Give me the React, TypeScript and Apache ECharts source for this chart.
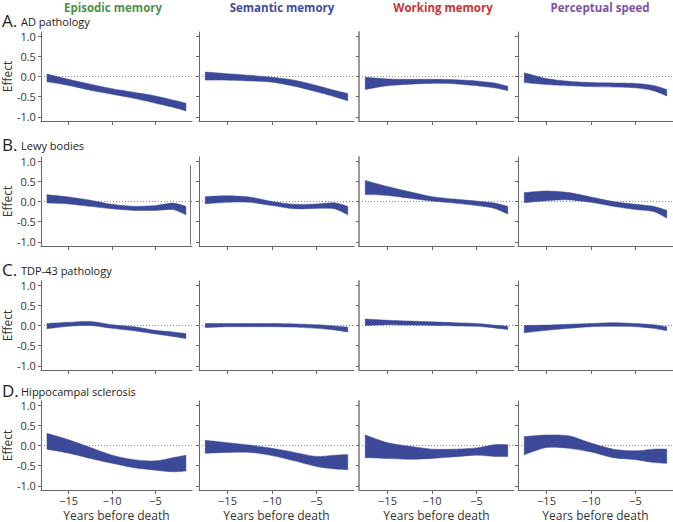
import React, { useEffect, useRef } from "react";
import * as echarts from "echarts";

const years = [-17.5, -15, -12.5, -10, -7.5, -5, -3, -1.5];
const xTicks = [-15, -10, -5];
const yTicks = [-1, -0.5, 0, 0.5, 1];
const xMin = -18.2;
const xMax = -0.8;

const domains = ["Episodic memory", "Semantic memory", "Working memory", "Perceptual speed"];
const domainColors = ["#4f9147", "#3e4c9c", "#cc3333", "#7a55a3"];
const rowLetters = ["A.", "B.", "C.", "D."];
const rowNames = ["AD pathology", "Lewy bodies", "TDP-43 pathology", "Hippocampal sclerosis"];

// Row A: AD pathology
const adEpisodicUpper = [0.06, -0.07, -0.19, -0.30, -0.39, -0.48, -0.58, -0.66];
const adEpisodicLower = [-0.13, -0.22, -0.34, -0.44, -0.54, -0.66, -0.76, -0.85];
const adSemanticUpper = [0.11, 0.07, 0.03, -0.02, -0.09, -0.22, -0.34, -0.42];
const adSemanticLower = [-0.09, -0.09, -0.11, -0.14, -0.24, -0.38, -0.50, -0.60];
const adWorkingUpper = [-0.02, -0.06, -0.07, -0.07, -0.08, -0.11, -0.16, -0.24];
const adWorkingLower = [-0.32, -0.23, -0.19, -0.17, -0.18, -0.23, -0.28, -0.35];
const adSpeedUpper = [0.09, -0.05, -0.12, -0.15, -0.16, -0.17, -0.22, -0.32];
const adSpeedLower = [-0.15, -0.20, -0.23, -0.25, -0.26, -0.28, -0.35, -0.48];

// Row B: Lewy bodies
const lbEpisodicUpper = [0.17, 0.11, 0.03, -0.07, -0.12, -0.10, -0.04, -0.12];
const lbEpisodicLower = [-0.04, -0.06, -0.12, -0.18, -0.22, -0.22, -0.20, -0.33];
const lbSemanticUpper = [0.12, 0.14, 0.11, 0.00, -0.07, -0.06, -0.03, -0.12];
const lbSemanticLower = [-0.06, -0.02, -0.02, -0.10, -0.18, -0.17, -0.18, -0.33];
const lbWorkingUpper = [0.52, 0.37, 0.24, 0.12, 0.06, 0.01, -0.04, -0.12];
const lbWorkingLower = [0.17, 0.15, 0.08, 0.01, -0.04, -0.10, -0.17, -0.31];
const lbSpeedUpper = [0.22, 0.26, 0.22, 0.11, 0.00, -0.07, -0.12, -0.22];
const lbSpeedLower = [-0.03, 0.02, 0.04, -0.02, -0.12, -0.20, -0.25, -0.41];

// Row C: TDP-43 pathology
const tdpEpisodicUpper = [0.05, 0.08, 0.10, 0.02, -0.03, -0.12, -0.16, -0.20];
const tdpEpisodicLower = [-0.08, -0.02, 0.00, -0.07, -0.13, -0.21, -0.27, -0.32];
const tdpSemanticUpper = [0.05, 0.05, 0.05, 0.05, 0.04, 0.02, -0.01, -0.04];
const tdpSemanticLower = [-0.05, -0.03, -0.03, -0.03, -0.04, -0.07, -0.11, -0.16];
const tdpWorkingUpper = [0.16, 0.13, 0.11, 0.09, 0.07, 0.05, 0.01, -0.02];
const tdpWorkingLower = [0.00, 0.02, 0.01, 0.00, -0.01, -0.02, -0.06, -0.10];
const tdpSpeedUpper = [0.00, 0.01, 0.03, 0.05, 0.07, 0.05, 0.02, -0.03];
const tdpSpeedLower = [-0.18, -0.12, -0.07, -0.03, -0.02, -0.03, -0.07, -0.13];

// Row D: Hippocampal sclerosis
const hsEpisodicUpper = [0.30, 0.14, -0.05, -0.24, -0.35, -0.38, -0.30, -0.24];
const hsEpisodicLower = [-0.09, -0.19, -0.32, -0.44, -0.55, -0.61, -0.65, -0.63];
const hsSemanticUpper = [0.13, 0.07, 0.01, -0.07, -0.17, -0.27, -0.24, -0.22];
const hsSemanticLower = [-0.19, -0.17, -0.17, -0.25, -0.38, -0.52, -0.58, -0.60];
const hsWorkingUpper = [0.26, 0.07, -0.02, -0.09, -0.09, -0.06, 0.02, 0.02];
const hsWorkingLower = [-0.30, -0.32, -0.34, -0.32, -0.28, -0.24, -0.27, -0.27];
const hsSpeedUpper = [0.22, 0.26, 0.24, 0.06, -0.09, -0.13, -0.09, -0.09];
const hsSpeedLower = [-0.23, -0.05, -0.07, -0.16, -0.30, -0.35, -0.42, -0.44];

const panels = [
  [[adEpisodicLower, adEpisodicUpper], [adSemanticLower, adSemanticUpper], [adWorkingLower, adWorkingUpper], [adSpeedLower, adSpeedUpper]],
  [[lbEpisodicLower, lbEpisodicUpper], [lbSemanticLower, lbSemanticUpper], [lbWorkingLower, lbWorkingUpper], [lbSpeedLower, lbSpeedUpper]],
  [[tdpEpisodicLower, tdpEpisodicUpper], [tdpSemanticLower, tdpSemanticUpper], [tdpWorkingLower, tdpWorkingUpper], [tdpSpeedLower, tdpSpeedUpper]],
  [[hsEpisodicLower, hsEpisodicUpper], [hsSemanticLower, hsSemanticUpper], [hsWorkingLower, hsWorkingUpper], [hsSpeedLower, hsSpeedUpper]],
];

const BAND = "#3c4898";
const AXIS = "#666";
const FONT = "'Open Sans', 'Noto Sans', sans-serif";

const gridLefts = [37, 199, 359, 518];
const gridTops = [32, 157, 281, 401];
const gridW = 155;
const gridH = 89;
const titleCenters = [113, 282, 443, 600];
const rowLabelY = [20, 144, 269, 390];

// Catmull-Rom style bezier through pixel points (drawing only)
function curveThrough(pts: number[][], first: boolean): string {
  let d = first ? `M${pts[0][0]},${pts[0][1]}` : `L${pts[0][0]},${pts[0][1]}`;
  const t = 0.8;
  for (let i = 0; i < pts.length - 1; i++) {
    const p0 = pts[Math.max(0, i - 1)];
    const p1 = pts[i];
    const p2 = pts[i + 1];
    const p3 = pts[Math.min(pts.length - 1, i + 2)];
    const c1x = p1[0] + ((p2[0] - p0[0]) / 6) * t;
    const c1y = p1[1] + ((p2[1] - p0[1]) / 6) * t;
    const c2x = p2[0] - ((p3[0] - p1[0]) / 6) * t;
    const c2y = p2[1] - ((p3[1] - p1[1]) / 6) * t;
    d += ` C${c1x},${c1y} ${c2x},${c2y} ${p2[0]},${p2[1]}`;
  }
  return d;
}

export default function App() {
  const ref = useRef<HTMLDivElement>(null);
  useEffect(() => {
    if (!ref.current) return;
    const chart = echarts.init(ref.current, null, { renderer: "svg" });
    const grid: any[] = [];
    const xAxis: any[] = [];
    const yAxis: any[] = [];
    const series: any[] = [];
    for (let r = 0; r < 4; r++) {
      for (let c = 0; c < 4; c++) {
        const i = r * 4 + c;
        grid.push({ left: gridLefts[c], top: gridTops[r], width: gridW, height: gridH });
        const lastRow = r === 3;
        xAxis.push({
          type: "value",
          gridIndex: i,
          min: xMin,
          max: xMax,
          axisLine: { onZero: false, lineStyle: { color: AXIS, width: 1 } },
          axisTick: { show: true, length: 4, customValues: xTicks, lineStyle: { color: AXIS } },
          axisLabel: {
            show: lastRow,
            customValues: xTicks,
            margin: 5,
            fontFamily: FONT,
            fontSize: 11,
            color: "#333",
            formatter: (v: number) => (v < 0 ? "\u2212" + Math.abs(v) : String(v)),
          },
          splitLine: { show: false },
          name: lastRow ? "Years before death" : "",
          nameLocation: "middle",
          nameGap: 19,
          nameTextStyle: { fontFamily: FONT, fontSize: 12, color: "#333" },
        });
        yAxis.push({
          type: "value",
          gridIndex: i,
          min: -1.1,
          max: 1.1,
          axisLine: {
            show: true,
            onZero: false,
            lineStyle: { color: c === 2 ? "#999" : AXIS, width: c === 2 ? 2 : 1 },
          },
          axisTick: { show: true, length: 3, customValues: yTicks, lineStyle: { color: AXIS } },
          axisLabel: {
            show: c === 0,
            customValues: yTicks,
            margin: 5,
            fontFamily: FONT,
            fontSize: 11,
            color: "#333",
            formatter: (v: number) => v.toFixed(1),
          },
          splitLine: { show: false },
          name: c === 0 ? "Effect" : "",
          nameLocation: "middle",
          nameGap: 25,
          nameRotate: 90,
          nameTextStyle: { fontFamily: FONT, fontSize: 12, color: "#333" },
        });
        const [lower, upper] = panels[r][c];
        series.push({
          type: "line",
          xAxisIndex: i,
          yAxisIndex: i,
          symbol: "none",
          silent: true,
          lineStyle: { type: [1, 2], color: "#888", width: 1 },
          data: [
            [xMin, 0],
            [xMax, 0],
          ],
          z: 1,
        });
        series.push({
          type: "custom",
          xAxisIndex: i,
          yAxisIndex: i,
          silent: true,
          encode: { x: 0, y: [1, 2] },
          data: years.map((x, k) => [x, lower[k], upper[k]]),
          renderItem: (params: any, api: any) => {
            if (params.dataIndexInside !== 0) return null;
            const n = params.dataInsideLength;
            const up: number[][] = [];
            const lo: number[][] = [];
            for (let k = 0; k < n; k++) {
              up.push(api.coord([api.value(0, k), api.value(2, k)]));
              lo.push(api.coord([api.value(0, k), api.value(1, k)]));
            }
            lo.reverse();
            const d = curveThrough(up, true) + " " + curveThrough(lo, false) + " Z";
            return {
              type: "path",
              shape: { pathData: d },
              style: { fill: BAND, stroke: BAND, lineWidth: 0.5 },
            };
          },
          z: 2,
        });
      }
    }
    const graphic: any[] = [];
    domains.forEach((d, c) => {
      graphic.push({
        type: "text",
        x: titleCenters[c],
        y: 1,
        style: {
          text: d,
          fill: domainColors[c],
          font: `bold 11.5px ${FONT}`,
          textAlign: "center",
          textVerticalAlign: "top",
        },
      });
    });
    rowLetters.forEach((l, r) => {
      graphic.push({
        type: "text",
        x: 2,
        y: rowLabelY[r],
        style: { text: l, fill: "#222", font: `17px ${FONT}`, textAlign: "left", textVerticalAlign: "middle" },
      });
      graphic.push({
        type: "text",
        x: 21,
        y: rowLabelY[r] + 1,
        style: { text: rowNames[r], fill: "#222", font: `11px ${FONT}`, textAlign: "left", textVerticalAlign: "middle" },
      });
    });
    graphic.push({
      type: "line",
      shape: { x1: 190.5, y1: 165, x2: 190.5, y2: 245 },
      style: { stroke: "#777", lineWidth: 1 },
    });
    chart.setOption({
      animation: false,
      backgroundColor: "#fff",
      grid,
      xAxis,
      yAxis,
      series,
      graphic,
    });
    return () => chart.dispose();
  }, []);
  return <div ref={ref} style={{ position: "fixed", left: 0, top: 0, width: 673, height: 522 }} />;
}
